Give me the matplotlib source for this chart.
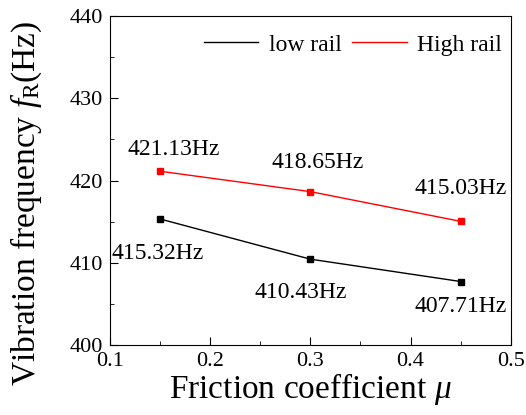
import matplotlib.pyplot as plt
from matplotlib.ticker import MultipleLocator

plt.rcParams['font.family'] = 'Liberation Serif'
plt.rcParams['mathtext.fontset'] = 'custom'
plt.rcParams['mathtext.rm'] = 'Liberation Serif'
plt.rcParams['mathtext.it'] = 'Liberation Serif:italic'

mu = [0.15, 0.30, 0.45]
low_rail = [415.32, 410.43, 407.71]
high_rail = [421.13, 418.65, 415.03]

# label offsets in points (dx, dy) for each point
low_offsets = [(-1.5, -24.5), (-7, -24), (0, -18)]
high_offsets = [(9.5, 16), (5, 21), (0, 23.5)]

fig = plt.figure(figsize=(5.26, 4.15), dpi=100)
ax = fig.add_axes([0.209, 0.169, 0.762, 0.792])

ax.plot(mu, low_rail, color='black', lw=1, marker='s', ms=5, label='low rail')
ax.plot(mu, high_rail, color='red', lw=1, marker='s', ms=5, label='High rail')

for x, y, off in zip(mu, low_rail, low_offsets):
    ax.annotate(f'{y:.2f}Hz', (x, y), xytext=off, textcoords='offset points',
                ha='center', va='center', fontsize=17)
for x, y, off in zip(mu, high_rail, high_offsets):
    ax.annotate(f'{y:.2f}Hz', (x, y), xytext=off, textcoords='offset points',
                ha='center', va='center', fontsize=17)

ax.set_xlim(0.1, 0.5)
ax.set_ylim(400, 440)
ax.xaxis.set_major_locator(MultipleLocator(0.1))
ax.xaxis.set_minor_locator(MultipleLocator(0.05))
ax.yaxis.set_major_locator(MultipleLocator(10))
ax.yaxis.set_minor_locator(MultipleLocator(5))
ax.tick_params(which='both', direction='in', labelsize=16)
ax.tick_params(which='major', length=6)
ax.tick_params(which='minor', length=3)
ax.tick_params(axis='x', pad=5)
ax.tick_params(axis='y', pad=5)

ax.set_xlabel(r'Friction coefficient $\mathit{\mu}$', fontsize=24, labelpad=0)
ax.set_ylabel(r'Vibration frequency $\mathit{f}_{\mathrm{R}}$(Hz)', fontsize=24)
ax.yaxis.set_label_coords(-0.165, 0.432)

leg = ax.legend(loc='center right', bbox_to_anchor=(502 / 526, 1 - 45 / 415),
                bbox_transform=fig.transFigure, ncol=2, frameon=False, fontsize=17,
                handlelength=2.3, handletextpad=0.45, columnspacing=0.45,
                borderpad=0, borderaxespad=0)
for h in leg.legend_handles:
    h.set_marker('')

fig.savefig('out.png', dpi=100)
